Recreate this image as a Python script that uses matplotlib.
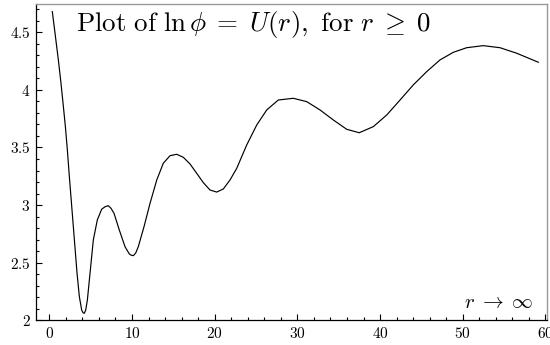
"""Recreate the ln(phi) = U(r) curve plot."""

import matplotlib

matplotlib.use("Agg")

import matplotlib.pyplot as plt
from matplotlib.ticker import FixedLocator, FuncFormatter, MultipleLocator

# values
r_vals = [
    0.36, 0.69, 1.09, 1.41, 1.70, 1.94, 2.18, 2.42, 2.71, 3.03, 3.35, 3.63,
    3.91, 4.07, 4.23, 4.40, 4.60, 4.92, 5.32, 5.80, 6.33, 6.74, 7.13, 7.46,
    7.82, 8.46, 9.15, 9.67, 9.90, 10.16, 10.45, 10.76, 11.45, 12.18, 12.99,
    13.78, 14.60, 15.40, 16.20, 17.01, 17.82, 18.62, 19.43, 20.24, 21.04,
    21.85, 22.66, 23.87, 25.08, 26.29, 27.69, 29.50, 31.12, 32.73, 34.34,
    35.96, 37.48, 39.18, 40.80, 42.41, 44.01, 45.63, 47.24, 48.85, 50.47,
    52.48, 54.50, 56.52, 59.13,
]
u_vals = [
    4.679, 4.491, 4.260, 4.057, 3.854, 3.681, 3.478, 3.247, 2.986, 2.697,
    2.408, 2.205, 2.089, 2.066, 2.061, 2.089, 2.176, 2.408, 2.697, 2.871,
    2.964, 2.986, 2.995, 2.972, 2.929, 2.784, 2.639, 2.576, 2.565, 2.561,
    2.585, 2.639, 2.813, 3.016, 3.218, 3.363, 3.429, 3.441, 3.415, 3.357,
    3.276, 3.195, 3.131, 3.113, 3.140, 3.218, 3.319, 3.522, 3.695, 3.826,
    3.912, 3.927, 3.898, 3.826, 3.739, 3.658, 3.628, 3.681, 3.782, 3.912,
    4.043, 4.158, 4.260, 4.326, 4.366, 4.384, 4.366, 4.318, 4.240,
]
x_ticks = [0, 10, 20, 30, 40, 50, 60]
y_ticks = [2, 2.5, 3, 3.5, 4, 4.5]

plt.rcParams["mathtext.fontset"] = "cm"
plt.rcParams["font.family"] = "serif"

fig = plt.figure(figsize=(5.5, 3.45), dpi=100)
ax = fig.add_axes([0.0655, 0.0716, 0.929, 0.917])

ax.plot(r_vals, u_vals, color="black", linewidth=0.85, solid_joinstyle="round")

ax.set_xlim(-1.61, 60.18)
ax.set_ylim(2, 4.746)

ax.xaxis.set_major_locator(FixedLocator(x_ticks))
ax.yaxis.set_major_locator(FixedLocator(y_ticks))
ax.xaxis.set_minor_locator(MultipleLocator(2))
ax.yaxis.set_minor_locator(MultipleLocator(0.1))
fmt = FuncFormatter(lambda v, pos: f"${v:g}$")
ax.xaxis.set_major_formatter(fmt)
ax.yaxis.set_major_formatter(fmt)

ax.tick_params(which="both", direction="in", color="black", width=0.8,
               labelsize=11, top=False, right=False)
ax.tick_params(which="major", length=4.5, pad=4)
ax.tick_params(which="minor", length=2.5)

for side in ("left", "bottom"):
    ax.spines[side].set_linewidth(0.9)
    ax.spines[side].set_color("black")
for side in ("top", "right"):
    ax.spines[side].set_linewidth(1.0)
    ax.spines[side].set_color("#999999")

title = r"$\mathrm{Plot\ of\ }\ln\phi\;=\;U(r)\mathrm{,\ for\ }r\;\geq\;0$"
ax.text(0.078, 0.985, title, transform=ax.transAxes, fontsize=19.4,
        ha="left", va="top")
ax.text(0.9726, 0.025, r"$r\;\rightarrow\;\infty$", transform=ax.transAxes,
        fontsize=15, ha="right", va="bottom")

fig.savefig("out.png", dpi=100)
